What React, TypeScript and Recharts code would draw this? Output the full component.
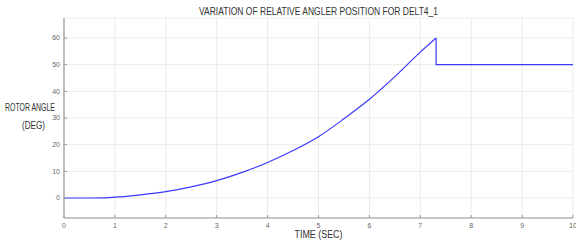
import React from "react";
import { LineChart, Line, XAxis, YAxis, CartesianGrid } from "recharts";

const timeSec = [0, 0.5, 0.8, 1, 1.5, 2, 2.5, 3, 3.5, 4, 4.5, 5, 5.5, 6, 6.5, 7, 7.31, 7.31, 8, 9, 10];
const riseAngle = [0, 0, 0.05, 0.3, 1.2, 2.4, 4.2, 6.5, 9.6, 13.3, 17.8, 23, 29.7, 37, 45.5, 54.7, 60, null, null, null, null];
const settledAngle = [null, null, null, null, null, null, null, null, null, null, null, null, null, null, null, null, 60, 50, 50, 50, 50];
const xTicks = [0, 1, 2, 3, 4, 5, 6, 7, 8, 9, 10];
const yTicks = [0, 10, 20, 30, 40, 50, 60];

const data = timeSec.map((t, i) => ({ t, a: riseAngle[i], b: settledAngle[i] }));

const FONT = "'Liberation Sans Narrow', 'Liberation Sans', Arial, sans-serif";

export default function App() {
  return (
    <div style={{ position: "absolute", left: 0, top: 0, width: 576, height: 241, background: "#fff" }}>
      <LineChart width={576} height={241} data={data} margin={{ top: 18, right: 3, bottom: 0, left: 0 }}>
        <CartesianGrid stroke="#ebebeb" strokeWidth={1} xAxisId="b" yAxisId="l" />
        <XAxis
          xAxisId="b"
          dataKey="t"
          type="number"
          domain={[0, 10]}
          ticks={xTicks}
          height={23}
          tickSize={-3}
          tickMargin={8.5}
          axisLine={{ stroke: "#9a9a9a", strokeWidth: 1.2 }}
          tickLine={{ stroke: "#9a9a9a" }}
          tick={{ fontSize: 7, fill: "#666", fontFamily: FONT }}
          interval={0}
        />
        <XAxis
          xAxisId="t"
          dataKey="t"
          type="number"
          orientation="top"
          mirror
          domain={[0, 10]}
          ticks={xTicks}
          height={0}
          tickSize={3}
          axisLine={{ stroke: "#9a9a9a", strokeWidth: 1.2 }}
          tickLine={{ stroke: "#9a9a9a" }}
          tick={false}
        />
        <YAxis
          yAxisId="l"
          type="number"
          domain={[-7.5, 67.5]}
          ticks={yTicks}
          width={64}
          tickSize={-3}
          tickMargin={7}
          axisLine={{ stroke: "#9a9a9a", strokeWidth: 1.2 }}
          tickLine={{ stroke: "#9a9a9a" }}
          tick={{ fontSize: 7, fill: "#666", fontFamily: FONT }}
          interval={0}
        />
        <YAxis
          yAxisId="r"
          type="number"
          orientation="right"
          mirror
          domain={[-7.5, 67.5]}
          ticks={yTicks}
          width={0}
          tickSize={3}
          axisLine={{ stroke: "#9a9a9a", strokeWidth: 1.2 }}
          tickLine={{ stroke: "#9a9a9a" }}
          tick={false}
        />
        <Line
          xAxisId="t"
          yAxisId="r"
          dataKey="b"
          type="linear"
          stroke="none"
          dot={false}
          isAnimationActive={false}
        />
        <Line
          xAxisId="b"
          yAxisId="l"
          dataKey="a"
          type="monotone"
          stroke="#3a3aff"
          strokeWidth={1.2}
          dot={false}
          connectNulls={false}
          isAnimationActive={false}
        />
        <Line
          xAxisId="b"
          yAxisId="l"
          dataKey="b"
          type="linear"
          stroke="#3a3aff"
          strokeWidth={1.2}
          dot={false}
          connectNulls={false}
          isAnimationActive={false}
        />
      </LineChart>
      <svg width={576} height={241} style={{ position: "absolute", left: 0, top: 0, pointerEvents: "none" }}>
        <text x={318.5} y={15} textAnchor="middle" fontSize={11} fill="#333" fontFamily={FONT} textLength={239} lengthAdjust="spacingAndGlyphs">
          VARIATION OF RELATIVE ANGLER POSITION FOR DELT4_1
        </text>
        <text x={30} y={111} textAnchor="middle" fontSize={10.5} fill="#333" fontFamily={FONT} textLength={50} lengthAdjust="spacingAndGlyphs">
          ROTOR ANGLE
        </text>
        <text x={33.5} y={129} textAnchor="middle" fontSize={10.5} fill="#333" fontFamily={FONT} textLength={23} lengthAdjust="spacingAndGlyphs">
          (DEG)
        </text>
        <text x={318.5} y={238} textAnchor="middle" fontSize={11} fill="#333" fontFamily={FONT} textLength={48} lengthAdjust="spacingAndGlyphs">
          TIME (SEC)
        </text>
      </svg>
    </div>
  );
}
